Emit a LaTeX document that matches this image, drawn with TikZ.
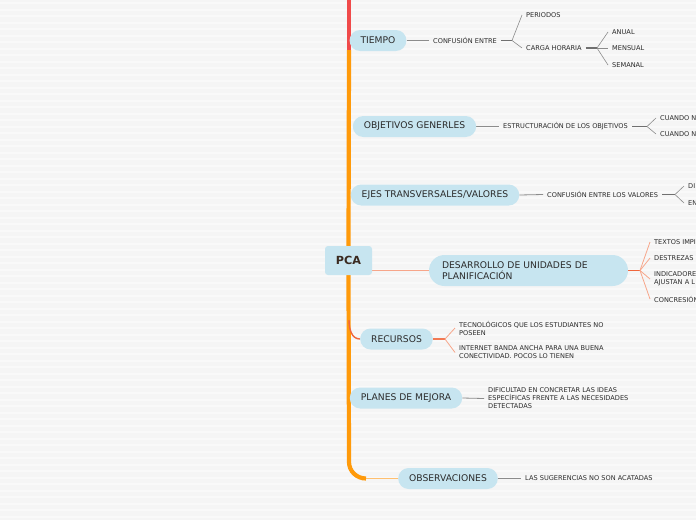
\documentclass[tikz,border=0pt]{standalone}
\usepackage{fontspec}
\setmainfont{DejaVu Sans}
\usetikzlibrary{backgrounds}
\definecolor{bg}{HTML}{F5F5F5}
\definecolor{stripe}{HTML}{F9F9F9}
\definecolor{pill}{HTML}{C7E5F0}
\definecolor{txt}{HTML}{2B2B2B}
\definecolor{pcatxt}{HTML}{3A2A20}
\definecolor{trunkc}{HTML}{FF9A0A}
\definecolor{lighttrunk}{HTML}{FFC070}
\definecolor{redb}{HTML}{F04A4A}
\definecolor{salmon}{HTML}{F7A68A}
\definecolor{coral}{HTML}{F0663C}
\definecolor{gline}{HTML}{8C8C8C}
\tikzset{
  topic/.style={fill=pill, rounded corners=10.5pt, minimum height=21pt, inner xsep=11pt, inner ysep=0pt,
    font=\fontsize{9.2}{11.5}\selectfont, text=txt},
  leaf/.style={anchor=west, inner xsep=4pt, inner ysep=1pt, font=\fontsize{6.6}{8}\selectfont, text=txt, align=left},
  conn/.style={draw=gline, line width=0.8pt},
  forkline/.style={draw=gline, line width=0.6pt},
  forkstub/.style={draw=gline!80!black, line width=1.2pt},
  sconn/.style={draw=salmon, line width=0.8pt},
  trunkline/.style={draw=trunkc, line width=4.2pt},
}
\begin{document}
\begin{tikzpicture}[x=1pt,y=-1pt]
\useasboundingbox (0,0) rectangle (696,520);
\clip (0,0) rectangle (696,520);

% central node
\node[fill=pill, rounded corners=3pt, minimum width=47pt, minimum height=29pt, inner sep=0pt,
  font=\bfseries\fontsize{11.2}{13}\selectfont, text=pcatxt] (pca) at (348.5,260.5) {PCA};

% main topics
\node[topic] (tiempo) at (378,40.5) {TIEMPO};
\node[topic] (obj) at (414.5,126.5) {OBJETIVOS GENERLES};
\node[topic] (ejes) at (435,195) {EJES TRANSVERSALES/VALORES};
\node[topic, text width=173pt, inner xsep=13pt, minimum height=31pt, rounded corners=15.5pt, align=left] (des) at (528.5,270.5) {DESARROLLO DE UNIDADES DE\\PLANIFICACIÓN};
\node[topic] (rec) at (396.5,339) {RECURSOS};
\node[topic] (plan) at (406,398) {PLANES DE MEJORA};
\node[topic] (obs) at (448,478.5) {OBSERVACIONES};

% leaves: TIEMPO
\node[leaf] (conf) at (429,40.5) {CONFUSIÓN ENTRE};
\node[leaf] (per) at (522,15) {PERIODOS};
\node[leaf] (carga) at (522,48) {CARGA HORARIA};
\node[leaf] (anual) at (608,32) {ANUAL};
\node[leaf] (mens) at (608,48) {MENSUAL};
\node[leaf] (sem) at (608,65) {SEMANAL};
\coordinate (f1) at (512,40.5);
\coordinate (f2) at (597,48);

% leaves: OBJETIVOS
\node[leaf] (estr) at (499,126.5) {ESTRUCTURACIÓN DE LOS OBJETIVOS};
\node[leaf] (cu1) at (656,118) {CUANDO N};
\node[leaf] (cu2) at (656,134) {CUANDO N};
\coordinate (f3) at (647,126.5);

% leaves: EJES
\node[leaf] (cval) at (543,194.5) {CONFUSIÓN ENTRE LOS VALORES};
\node[leaf] (di) at (684,186) {DI};
\node[leaf] (en) at (684,203) {EN};
\coordinate (f4) at (675,194.5);

% leaves: DESARROLLO
\node[leaf] (tex) at (650,242) {TEXTOS IMPI};
\node[leaf] (des1) at (650,258) {DESTREZAS};
\node[leaf] (ind) at (650,279) {INDICADORE\\AJUSTAN A L};
\node[leaf] (conc) at (650,299) {CONCRESIÓN};
\coordinate (f5) at (640,270.5);

% leaves: RECURSOS
\node[leaf] (tec) at (455,328) {TECNOLÓGICOS QUE LOS ESTUDIANTES NO\\POSEEN};
\node[leaf] (int) at (455,352.5) {INTERNET BANDA ANCHA PARA UNA BUENA\\CONECTIVIDAD. POCOS LO TIENEN};
\coordinate (f6) at (445,339);

% leaves: PLANES
\node[leaf] (dif) at (484,398.5) {DIFICULTAD EN CONCRETAR LAS IDEAS\\ESPECÍFICAS FRENTE A LAS NECESIDADES\\DETECTADAS};

% leaves: OBS
\node[leaf] (sug) at (521,478.5) {LAS SUGERENCIAS NO SON ACATADAS};

\coordinate (top) at (349,0);
\coordinate (tj) at (349,50);
\coordinate (bj) at (349,462);
\coordinate (bend) at (366,478.5);
\coordinate (rj) at (349,320);

\begin{scope}[on background layer]
  \fill[bg] (0,0) rectangle (696,520);
  \foreach \y in {3,9.5,...,520} \draw[stripe, line width=2pt] (0,\y) -- (696,\y);

  % trunk
  \draw[draw=redb, line width=4.4pt] (top) -- (tj);
  \draw[trunkline] (tj) -- (pca.north);
  \draw[trunkline] (pca.south) -- (bj) to[out=-90,in=180] (bend);
  \draw[draw=lighttrunk, line width=1.2pt] (bend) -- (obs.west);
  \draw[draw=coral, line width=1.4pt] (rj) to[out=-90,in=180] (rec.west);
  \draw[sconn] (pca.east |- des.west) -- (des.west);

  % TIEMPO
  \draw[conn] (tiempo.east) -- (conf.west);
  \draw[forkstub] (conf.east) -- (f1);
  \draw[forkline] (f1) -- (per.west);
  \draw[forkline] (f1) -- (carga.west);
  \draw[forkstub] (carga.east) -- (f2);
  \draw[forkline] (f2) -- (anual.west);
  \draw[forkline] (f2) -- (mens.west);
  \draw[forkline] (f2) -- (sem.west);

  % OBJETIVOS
  \draw[conn] (obj.east) -- (estr.west);
  \draw[forkstub] (estr.east) -- (f3);
  \draw[forkline] (f3) -- (cu1.west);
  \draw[forkline] (f3) -- (cu2.west);

  % EJES
  \draw[conn] (ejes.east) -- (cval.west);
  \draw[forkstub] (cval.east) -- (f4);
  \draw[forkline] (f4) -- (di.west);
  \draw[forkline] (f4) -- (en.west);

  % DESARROLLO
  \draw[draw=coral, line width=1.6pt] (des.east) -- (f5);
  \draw[sconn] (f5) -- (tex.west);
  \draw[sconn] (f5) -- (des1.west);
  \draw[sconn] (f5) -- (ind.west);
  \draw[sconn] (f5) -- (conc.west);

  % RECURSOS
  \draw[draw=coral!70!salmon, line width=1.2pt] (rec.east) -- (f6);
  \draw[sconn] (f6) -- (tec.west);
  \draw[sconn] (f6) -- (int.west);

  % PLANES
  \draw[conn] (plan.east) -- (dif.west);

  % OBS
  \draw[conn] (obs.east) -- (sug.west);
\end{scope}
\end{tikzpicture}
\end{document}
